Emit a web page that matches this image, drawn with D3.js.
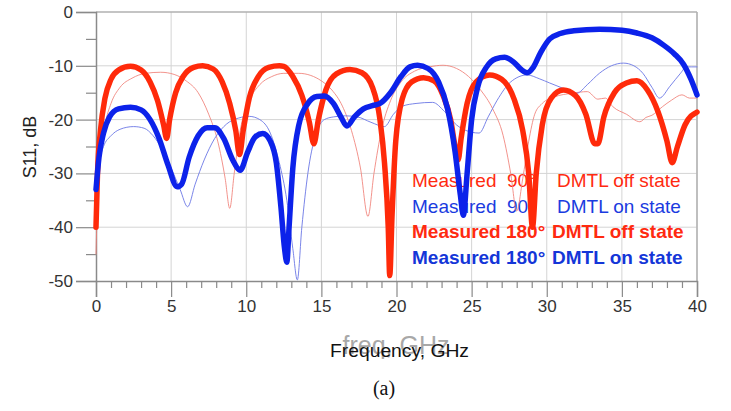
<!DOCTYPE html>
<html>
<head>
<meta charset="utf-8">
<script src="https://cdn.jsdelivr.net/npm/d3@7"></script>
<style>
  body { margin: 0; background: #fff; }
  svg { display: block; }
</style>
</head>
<body>
<svg id="chart" width="731" height="411"></svg>
<script>
// S11 (dB) vs frequency (GHz)
var thickRed = [ // Measured 180° DMTL off state
  [0,-40],[0.1,-30],[0.3,-22],[0.6,-16],[1.0,-12.5],[1.5,-10.8],[2.3,-10.1],[3.0,-10.8],[3.6,-13],[4.1,-16.5],
  [4.5,-21],[4.7,-23.5],[4.9,-20],[5.3,-15],[5.8,-12],[6.5,-10.3],[7.1,-10],[7.8,-10.6],[8.4,-13],[8.9,-17],
  [9.3,-22],[9.55,-26.5],[9.8,-22],[10.2,-16],[10.8,-12],[11.5,-10.3],[12.2,-10],[12.5,-10.1],[13.1,-12],
  [13.7,-15.5],[14.2,-20.5],[14.5,-24.5],[14.8,-20],[15.3,-14.5],[16.0,-11.5],[16.9,-10.7],[17.7,-11.3],
  [18.4,-14],[18.9,-20],[19.2,-28],[19.45,-40],[19.55,-49],[19.7,-38],[19.95,-24],[20.4,-16],[21.0,-13],
  [21.8,-12.2],[22.5,-12.8],[23.1,-15.5],[23.6,-20],[23.9,-25],[24.1,-27.5],[24.3,-23.5],[24.7,-17],
  [25.3,-13],[26.2,-11.7],[27.0,-12.5],[27.8,-16],[28.4,-22],[28.8,-30],[29.05,-40],[29.3,-30],[29.7,-21],
  [30.3,-16],[31.1,-14.5],[31.9,-15.5],[32.6,-19],[33.2,-24.5],[33.4,-24.5],[33.8,-19.5],[34.5,-15],
  [35.3,-13.2],[36.0,-12.8],[36.7,-14.5],[37.4,-18.5],[38.0,-24],[38.35,-28],[38.7,-25],[39.2,-21],[40,-18.6]
]
var thickBlue = [ // Measured 180° DMTL on state
  [0,-33],[0.2,-27],[0.5,-22.5],[0.9,-19.5],[1.5,-18],[2.3,-17.7],[3.0,-18.2],[3.6,-20],[4.2,-23.5],[4.8,-28.5],
  [5.4,-32.5],[5.7,-32],[6.2,-27],[6.8,-23],[7.4,-21.5],[7.9,-21.5],[8.5,-23.5],[9.1,-27.5],[9.6,-29.4],
  [10.1,-26],[10.6,-23.2],[11.1,-22.6],[11.6,-24],[12.0,-28],[12.3,-36],[12.55,-44],[12.7,-46.5],[12.85,-40],
  [13.1,-29],[13.5,-21],[14.1,-17],[14.7,-15.7],[15.2,-15.6],[15.8,-17],[16.3,-19.5],[16.7,-21.2],[17.2,-19.5],
  [17.8,-18],[18.4,-17.4],[18.9,-17],[19.6,-15],[20.3,-12],[20.9,-10.2],[21.4,-9.9],[22.1,-10.5],[22.8,-13],
  [23.4,-18],[23.9,-26],[24.25,-34],[24.45,-37.8],[24.7,-30],[25.0,-20],[25.4,-14],[26.0,-10.2],[26.6,-8.7],
  [27.2,-8.4],[27.8,-9.3],[28.3,-10.7],[28.7,-11.3],[29.1,-10.3],[29.6,-7.5],[30.2,-5],[30.9,-4],[31.8,-3.5],
  [33.5,-3.2],[35.0,-3.4],[36.0,-3.9],[37.0,-4.8],[37.8,-6.2],[38.5,-7.8],[39.1,-9.7],[39.6,-12.5],[40,-15.4]
]
var thinRed = [ // Measured 90° DMTL off state
  [0,-45],[0.1,-35],[0.3,-27],[0.6,-21],[1.0,-17],[1.6,-14],[2.4,-12.3],[3.3,-11.4],[4.3,-11.2],[5.2,-11.6],
  [6.0,-12.8],[6.8,-15],[7.5,-19],[8.1,-24],[8.6,-31],[8.9,-36.5],[9.2,-30],[9.6,-22],[10.2,-16.5],[10.9,-13.5],
  [11.7,-12],[12.5,-11.4],[13.5,-11.4],[14.3,-11.8],[15.0,-12.8],[15.7,-14.5],[16.4,-17.5],[17.0,-22],
  [17.6,-29],[18.1,-38],[18.5,-30],[19.0,-22],[19.6,-16.5],[20.3,-13],[21.2,-11],[22.2,-10.2],[23.1,-9.9],
  [24.0,-10.5],[24.8,-12],[25.6,-14.5],[26.4,-18],[27.1,-23],[27.6,-30],[28.0,-37],[28.4,-31],[28.8,-24],
  [29.2,-19],[29.7,-17],[30.5,-15.8],[31.7,-15.1],[32.7,-14.8],[33.4,-16.2],[33.9,-16],[34.4,-17.6],
  [35.3,-19],[36.2,-20.4],[36.6,-19.6],[37.0,-19.2],[37.7,-17.6],[38.3,-16.4],[39.0,-15.4],[39.5,-16],[40,-16]
]
var thinBlue = [ // Measured 90° DMTL on state
  [0,-32],[0.2,-28],[0.5,-25],[1.0,-23],[1.6,-21.8],[2.5,-21.3],[3.2,-21.6],[3.8,-23],[4.4,-25.5],[5.0,-29],
  [5.6,-33],[6.1,-36.2],[6.6,-32],[7.2,-27.5],[7.9,-23.5],[8.7,-20.8],[9.5,-19.7],[10.2,-19.4],[10.9,-20],
  [11.6,-22.5],[12.2,-28],[12.7,-35],[13.1,-44],[13.4,-49.8],[13.7,-40],[14.1,-30],[14.6,-23],[15.2,-20],
  [15.8,-19.5],[16.6,-19.3],[17.4,-19.5],[18.3,-20.5],[19.2,-21.3],[19.8,-19],[20.4,-17.5],[21.3,-17],
  [22.4,-16.8],[23.2,-18.5],[24.0,-21],[24.6,-22],[25.5,-22.5],[26.1,-19.5],[26.7,-16.4],[27.6,-13],
  [28.7,-11.7],[29.5,-12.4],[30.2,-13.2],[31.1,-14.2],[32.0,-15.1],[32.7,-13.5],[33.5,-11.4],[34.3,-10],
  [35.1,-9.5],[35.8,-10],[36.4,-11.4],[37.0,-14],[37.5,-16],[38.2,-13.8],[38.9,-11.4],[39.3,-10.2],[40,-10.2]
]

var xTicks = [0, 5, 10, 15, 20, 25, 30, 35, 40]
var yTicks = [0, -10, -20, -30, -40, -50]
var legendRows = [
  { left: "Measured  90°", right: "DMTL off state", color: "#ff2a10", bold: false },
  { left: "Measured  90°", right: "DMTL on state", color: "#1a3be0", bold: false },
  { left: "Measured 180°", right: "DMTL off state", color: "#ff2a10", bold: true },
  { left: "Measured 180°", right: "DMTL on state", color: "#1436d8", bold: true }
]

var svg = d3.select('#chart')
var margin = { top: 12, right: 34, bottom: 130, left: 96 }
var width = 731 - margin.left - margin.right
var height = 411 - margin.top - margin.bottom

var x = d3.scaleLinear().domain([0, 40]).range([margin.left, margin.left + width])
var y = d3.scaleLinear().domain([-50, 0]).range([margin.top + height, margin.top])

var font = "Liberation Sans, Arial, sans-serif"

// grid
var grid = svg.append('g')
grid.selectAll('.vg').data(xTicks.slice(1)).enter().append('line')
  .attr('x1', d => x(d)).attr('x2', d => x(d))
  .attr('y1', y(0)).attr('y2', y(-50))
  .style('stroke', '#d4d4d4').style('stroke-width', 1)
grid.selectAll('.hg').data(yTicks.slice(1, -1)).enter().append('line')
  .attr('x1', x(0)).attr('x2', x(40))
  .attr('y1', d => y(d)).attr('y2', d => y(d))
  .style('stroke', '#d4d4d4').style('stroke-width', 1)

// frame top / right
svg.append('line').attr('x1', x(0)).attr('x2', x(40)).attr('y1', y(0)).attr('y2', y(0))
  .style('stroke', '#b0b0b0').style('stroke-width', 1.5)
svg.append('line').attr('x1', x(40)).attr('x2', x(40)).attr('y1', y(0)).attr('y2', y(-50))
  .style('stroke', '#b0b0b0').style('stroke-width', 1.5)

// y axis
var yAxis = d3.axisLeft(y).tickValues(yTicks).tickSize(20).tickPadding(3).tickFormat(d => String(d))
var gy = svg.append('g').attr('transform', 'translate(' + x(0) + ',0)').call(yAxis)
gy.select('.domain').style('stroke', '#8a8a8a').style('stroke-width', 1.5)
gy.selectAll('.tick line').style('stroke', '#8a8a8a').style('stroke-width', 1.2)
gy.selectAll('.tick text').style('font-family', font).style('font-size', '17px').style('fill', '#333')
var yMinor = d3.axisLeft(y).tickValues(d3.range(-45, 0, 10)).tickSize(10).tickFormat('')
var gym = svg.append('g').attr('transform', 'translate(' + x(0) + ',0)').call(yMinor)
gym.select('.domain').remove()
gym.selectAll('.tick line').style('stroke', '#8a8a8a').style('stroke-width', 1.2)

// x axis
var xAxis = d3.axisBottom(x).tickValues(xTicks).tickSize(16).tickPadding(3).tickFormat(d => String(d))
var gx = svg.append('g').attr('transform', 'translate(0,' + y(-50) + ')').call(xAxis)
gx.select('.domain').style('stroke', '#8a8a8a').style('stroke-width', 1.5)
gx.selectAll('.tick line').style('stroke', '#8a8a8a').style('stroke-width', 1.2)
gx.selectAll('.tick text').style('font-family', font).style('font-size', '17px').style('fill', '#333')
var xMinor = d3.axisBottom(x).tickValues(d3.range(1, 40).filter(d => d % 5 != 0)).tickSize(7).tickFormat('')
var gxm = svg.append('g').attr('transform', 'translate(0,' + y(-50) + ')').call(xMinor)
gxm.select('.domain').remove()
gxm.selectAll('.tick line').style('stroke', '#8a8a8a').style('stroke-width', 1.2)

// axis titles
svg.append('text')
  .attr('transform', 'translate(36,147) rotate(-90)')
  .attr('text-anchor', 'middle')
  .style('font-family', font).style('font-size', '18px').style('fill', '#222')
  .text('S11, dB')

// the source figure has two overlapping x titles
svg.append('text')
  .attr('x', 396).attr('y', 354)
  .attr('text-anchor', 'middle')
  .style('font-family', font).style('font-size', '25px').style('fill', '#a8a8a8')
  .text('freq, GHz')
svg.append('text')
  .attr('x', 330).attr('y', 357)
  .attr('textLength', 139).attr('lengthAdjust', 'spacingAndGlyphs')
  .style('font-family', font).style('font-size', '17.5px').style('fill', '#111')
  .text('Frequency, GHz')

svg.append('text')
  .attr('x', 384).attr('y', 395)
  .attr('text-anchor', 'middle')
  .style('font-family', "Liberation Serif, Times New Roman, serif").style('font-size', '20px').style('fill', '#111')
  .text('(a)')

// legend (under the curves)
var leg = svg.append('g')
legendRows.forEach(function (r, i) {
  var yy = 187 + i * 25.7
  leg.append('text').attr('x', 412).attr('y', yy)
    .style('white-space', 'pre')
    .style('font-family', font).style('font-size', '19px')
    .style('font-weight', r.bold ? 'bold' : 'normal').style('fill', r.color)
    .text(r.left)
  leg.append('text').attr('x', r.bold ? 552 : 557).attr('y', yy)
    .style('font-family', font).style('font-size', '19px')
    .style('font-weight', r.bold ? 'bold' : 'normal').style('fill', r.color)
    .text(r.right)
})

// curves
var line = d3.line()
  .x(d => x(d[0]))
  .y(d => y(d[1]))
  .curve(d3.curveMonotoneX)

var series = [
  { data: thinRed, color: '#f08078', w: 1, op: 0.85 },
  { data: thinBlue, color: '#6b78e6', w: 1, op: 0.9 },
  { data: thickRed, color: '#ff2a0a', w: 5.5, op: 1 },
  { data: thickBlue, color: '#0c22ea', w: 5.5, op: 1 }
]
svg.selectAll('.curve').data(series).enter().append('path')
  .attr('class', 'curve')
  .attr('d', d => line(d.data))
  .style('fill', 'none')
  .style('stroke', d => d.color)
  .style('stroke-width', d => d.w)
  .style('stroke-opacity', d => d.op)
  .style('stroke-linejoin', 'round')
  .style('stroke-linecap', 'round')
</script>
</body>
</html>
